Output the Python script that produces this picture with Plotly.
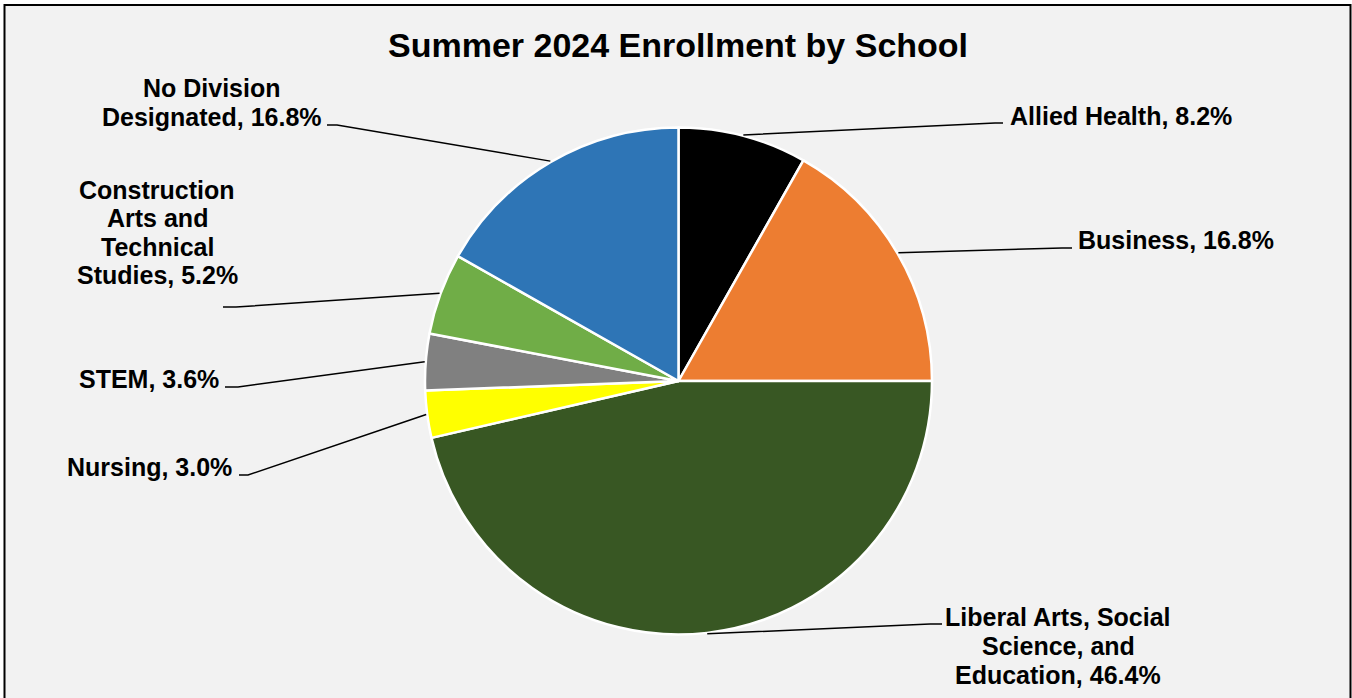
import math
import plotly.graph_objects as go

# ---- data ----
schools = ["Allied Health", "Business", "Liberal Arts, Social Science, and Education",
           "Nursing", "STEM", "Construction Arts and Technical Studies",
           "No Division Designated"]
shares = [8.2, 16.8, 46.4, 3.0, 3.6, 5.2, 16.8]
label_lines = [
    ["Allied Health, 8.2%"],
    ["Business, 16.8%"],
    ["Liberal Arts, Social", "Science, and", "Education, 46.4%"],
    ["Nursing, 3.0%"],
    ["STEM, 3.6%"],
    ["Construction", "Arts and", "Technical", "Studies, 5.2%"],
    ["No Division", "Designated, 16.8%"],
]
colors = ["#000000", "#ED7D31", "#385723", "#FFFF00", "#808080", "#70AD47", "#2E75B6"]

W, H = 1352, 698
CX, CY, R = 678.5, 381.0, 253.5
FONT = "Liberation Sans, Arial, sans-serif"
LABEL_SIZE = 25

def px(x):
    return x / W

def py(y):
    return 1 - y / H

# label layout (pixel positions): anchor x, xanchor, first-line y, line step, leader elbow, leader end
label_layout = [
    dict(x=1008, xa="left", y0=116.5, dy=29, elbow=(995, 123), end=(1003, 123)),
    dict(x=1076, xa="left", y0=240, dy=29, elbow=(1062, 248), end=(1072, 248)),
    dict(x=1058, xa="center", y0=616.5, dy=29.3, elbow=(930, 624), end=(942, 624)),
    dict(x=234, xa="right", y0=467, dy=29, elbow=(248, 475), end=(239, 475)),
    dict(x=221, xa="right", y0=378.5, dy=29, elbow=(238, 387), end=(225, 387)),
    dict(x=157, xa="center", y0=190, dy=28.4, elbow=(236, 307), end=(223, 307)),
    dict(x=212, xa="center", y0=88, dy=29, elbow=(337, 125), end=(327, 125)),
]

fig = go.Figure()
fig.add_trace(go.Pie(
    labels=schools, values=shares, sort=False, direction="clockwise", rotation=0,
    marker=dict(colors=colors, line=dict(color="white", width=2.5)),
    textinfo="none", hoverinfo="label+percent", showlegend=False,
    domain=dict(x=[px(CX - R), px(CX + R)], y=[py(CY + R), py(CY - R)]),
))

shapes = [dict(type="rect", xref="paper", yref="paper",
               x0=px(4.5), x1=px(1350.5), y0=py(710), y1=py(5),
               line=dict(color="black", width=2), fillcolor="#F2F2F2", layer="below")]
annotations = []

total = sum(shares)
cum = 0.0
for i, v in enumerate(shares):
    mid = (cum + v / 2) / total
    cum += v
    th = 2 * math.pi * mid
    sx = CX + (R + 1) * math.sin(th)
    sy = CY - (R + 1) * math.cos(th)
    L = label_layout[i]
    ex, ey = L["elbow"]
    tx, ty = L["end"]
    path = f"M {px(sx)} {py(sy)} L {px(ex)} {py(ey)} L {px(tx)} {py(ty)}"
    shapes.append(dict(type="path", xref="paper", yref="paper", path=path,
                       line=dict(color="black", width=1.5)))
    for k, line in enumerate(label_lines[i]):
        annotations.append(dict(
            text=line, xref="paper", yref="paper",
            x=px(L["x"]), y=py(L["y0"] + k * L["dy"]),
            xanchor=L["xa"], yanchor="middle", showarrow=False,
            font=dict(family=FONT, size=LABEL_SIZE, color="black", weight="bold"),
        ))

annotations.append(dict(
    text="Summer 2024 Enrollment by School", xref="paper", yref="paper",
    x=px(678), y=py(44.5), xanchor="center", yanchor="middle", showarrow=False,
    font=dict(family=FONT, size=34, color="black", weight="bold"),
))

fig.update_layout(
    width=W, height=H, margin=dict(l=0, r=0, t=0, b=0),
    paper_bgcolor="white", plot_bgcolor="white",
    shapes=shapes, annotations=annotations,
)

fig.write_html("out.html", config={"displayModeBar": False},
               post_script="document.body.style.margin='0';document.body.style.overflow='hidden';")
